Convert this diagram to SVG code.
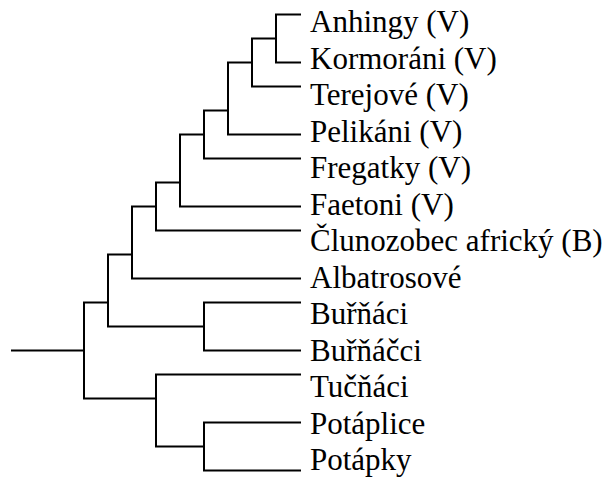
<svg xmlns="http://www.w3.org/2000/svg" width="610" height="482" viewBox="0 0 610 482">
<style>
.c{fill:none;stroke:#000;stroke-width:2;stroke-linecap:square;stroke-linejoin:miter}
text{font-size:31px;fill:#000}
</style>
<rect width="610" height="482" fill="#fff"/>
<g id="connectors">
<path class="c" d="M12,350.5H84M84,302.5V398.5M84,302.5H108M84,398.5H156"/>
<path class="c" d="M108,254.5V326.5M108,254.5H132M108,326.5H204"/>
<path class="c" d="M132,206.5V278.5M132,206.5H156M132,278.5H300"/>
<path class="c" d="M156,182.5V230.5M156,182.5H180M156,230.5H300"/>
<path class="c" d="M180,134.5V206.5M180,134.5H204M180,206.5H300"/>
<path class="c" d="M204,110.5V158.5M204,110.5H228M204,158.5H300"/>
<path class="c" d="M228,62.5V134.5M228,62.5H252M228,134.5H300"/>
<path class="c" d="M252,38.5V86.5M252,38.5H276M252,86.5H300"/>
<path class="c" d="M276,14.5V62.5M276,14.5H300M276,62.5H300"/>
<path class="c" d="M204,302.5V350.5M204,302.5H300M204,350.5H300"/>
<path class="c" d="M156,374.5V446.5M156,374.5H300M156,446.5H204"/>
<path class="c" d="M204,422.5V470.5M204,422.5H300M204,470.5H300"/>
</g>
<g id="n-anhingy"><text font-family="Times New Roman" x="310" y="32">Anhingy (V)</text></g>
<g id="n-kormorani"><text font-family="Times New Roman" x="310" y="68.5">Kormoráni (V)</text></g>
<g id="n-terejove"><text font-family="Times New Roman" x="310" y="105">Terejové (V)</text></g>
<g id="n-pelikani"><text font-family="Times New Roman" x="310" y="141.5">Pelikáni (V)</text></g>
<g id="n-fregatky"><text font-family="Times New Roman" x="310" y="178">Fregatky (V)</text></g>
<g id="n-faetoni"><text font-family="Times New Roman" x="310" y="214.5">Faetoni (V)</text></g>
<g id="n-clunozobec"><text font-family="Times New Roman" x="310" y="251">Člunozobec africký (B)</text></g>
<g id="n-albatrosove"><text font-family="Times New Roman" x="310" y="287.5">Albatrosové</text></g>
<g id="n-burnaci"><text font-family="Times New Roman" x="310" y="324">Buřňáci</text></g>
<g id="n-burnacci"><text font-family="Times New Roman" x="310" y="360.5">Buřňáčci</text></g>
<g id="n-tucnaci"><text font-family="Times New Roman" x="310" y="397">Tučňáci</text></g>
<g id="n-potaplice"><text font-family="Times New Roman" x="310" y="433.5">Potáplice</text></g>
<g id="n-potapky"><text font-family="Times New Roman" x="310" y="470">Potápky</text></g>
</svg>
